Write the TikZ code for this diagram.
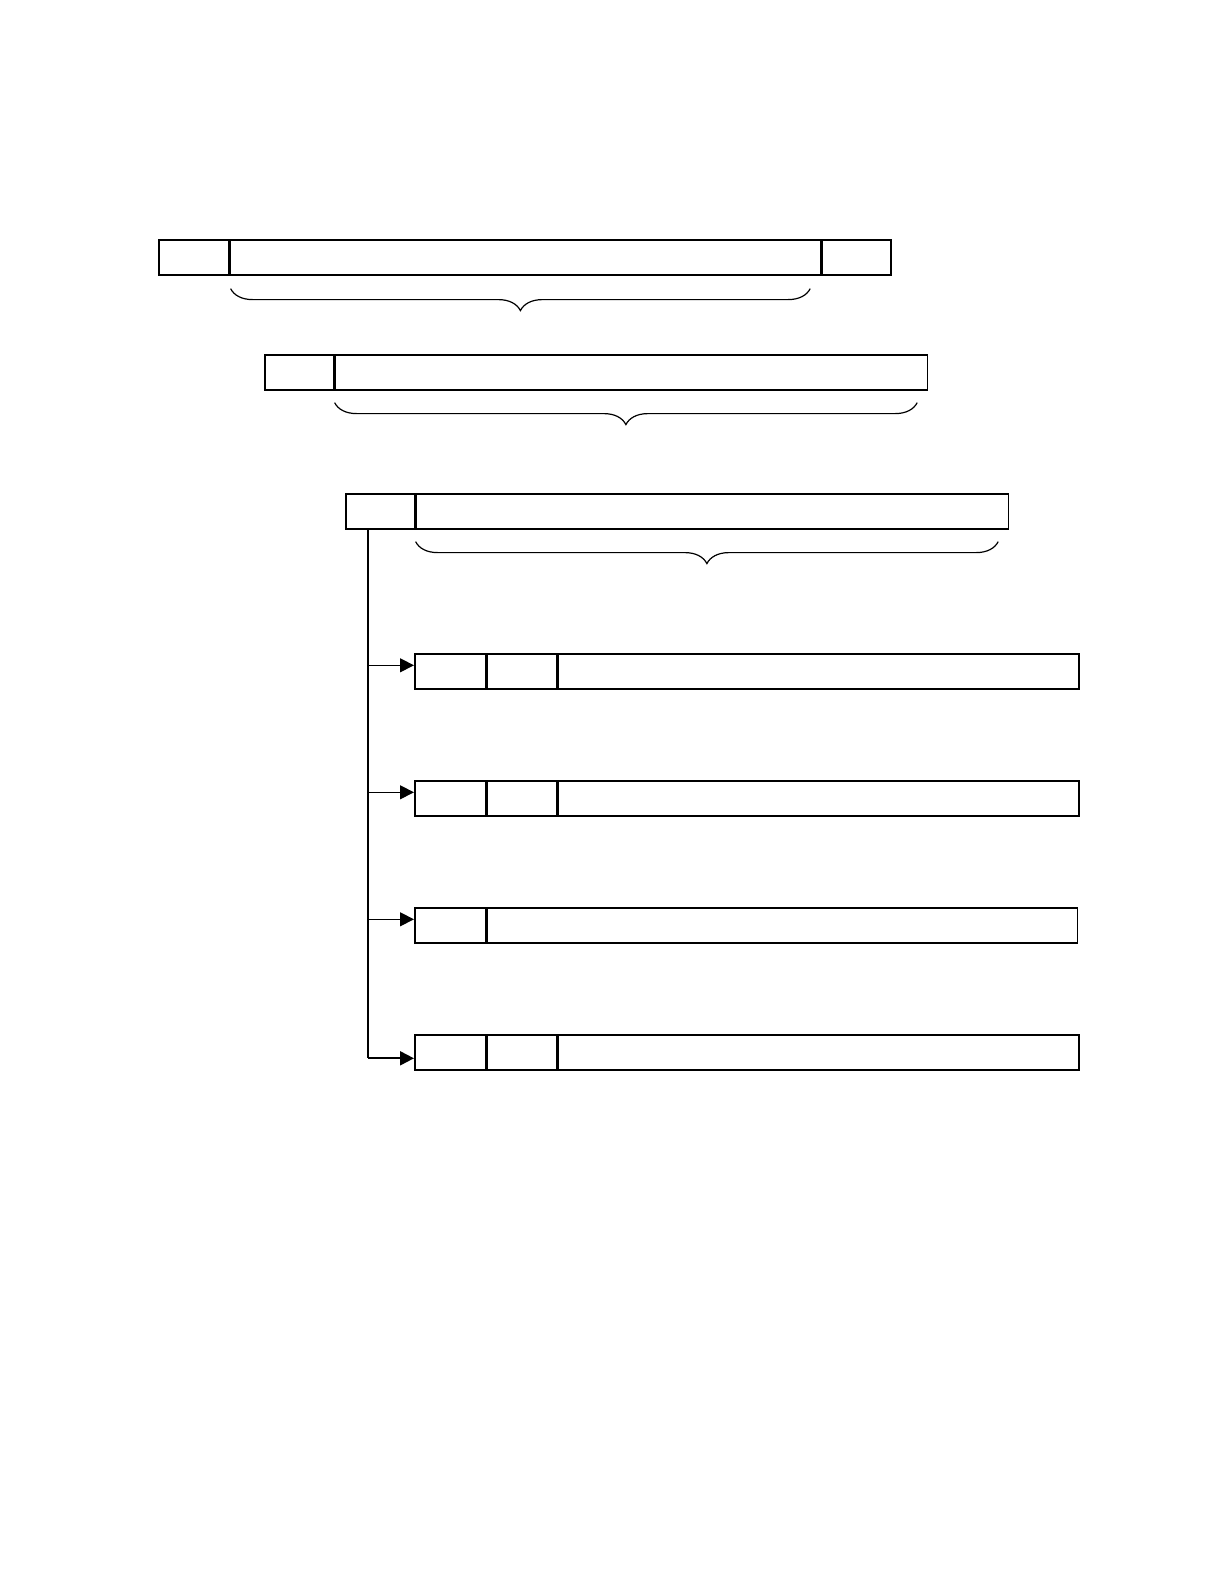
\documentclass[tikz,border=0pt]{standalone}
\usetikzlibrary{positioning,arrows.meta,decorations.pathreplacing}

\tikzset{
  cell/.style={draw, line width=0.8pt, inner sep=0pt, minimum height=17.5pt},
  under/.style={draw, line width=0.6pt, decorate, decoration={brace, mirror, amplitude=11pt}},
  trunkline/.style={line width=1pt},
  branch/.style={line width=0.5pt, -{Triangle[length=7pt,width=7pt]}},
}

\begin{document}
\begin{tikzpicture}[x=0.5pt,y=-0.5pt]
  \useasboundingbox (0,0) rectangle (1224,1584);

  % outer frame
  \node[cell, minimum width=35pt, anchor=north west] (r1a) at (158,239) {};
  \node[cell, minimum width=295pt, right=0pt of r1a] (r1b) {};
  \node[cell, minimum width=34.5pt, right=0pt of r1b] (r1c) {};
  \draw[under] ([shift={(1,13)}]r1b.south west) -- ([shift={(-11,13)}]r1b.south east);

  % second level
  \node[cell, minimum width=34.5pt, anchor=north west] (r2a) at (264,354) {};
  \node[cell, minimum width=296pt, right=0pt of r2a] (r2b) {};
  \draw[under] ([shift={(0,12)}]r2b.south west) -- ([shift={(-11,12)}]r2b.south east);

  % third level
  \node[cell, minimum width=34.5pt, anchor=north west] (r3a) at (345,493) {};
  \node[cell, minimum width=296pt, right=0pt of r3a] (r3b) {};
  \draw[under] ([shift={(0,12)}]r3b.south west) -- ([shift={(-11,12)}]r3b.south east);

  % sub entries
  \foreach \r/\y in {4/653,5/780,7/1034}{
    \node[cell, minimum width=35.5pt, anchor=north west] (r\r a) at (414,\y) {};
    \node[cell, minimum width=34.5pt, right=0pt of r\r a] (r\r b) {};
    \node[cell, minimum width=260.5pt, right=0pt of r\r b] (r\r c) {};
  }
  \node[cell, minimum width=35.5pt, anchor=north west] (r6a) at (414,907) {};
  \node[cell, minimum width=295pt, right=0pt of r6a] (r6b) {};

  % tree
  \coordinate (trunk) at (368,0);
  \draw[trunkline] (trunk |- r3a.south) -- ([yshift=-3pt]trunk |- r7a.west);
  \foreach \r in {4,5,6}{
    \draw[branch] ([yshift=3pt]trunk |- r\r a.west) -- ([yshift=3pt]r\r a.west);
  }
  \draw[branch, line width=1pt] ([yshift=-3pt]trunk |- r7a.west) -- ([yshift=-3pt]r7a.west);
\end{tikzpicture}
\end{document}
